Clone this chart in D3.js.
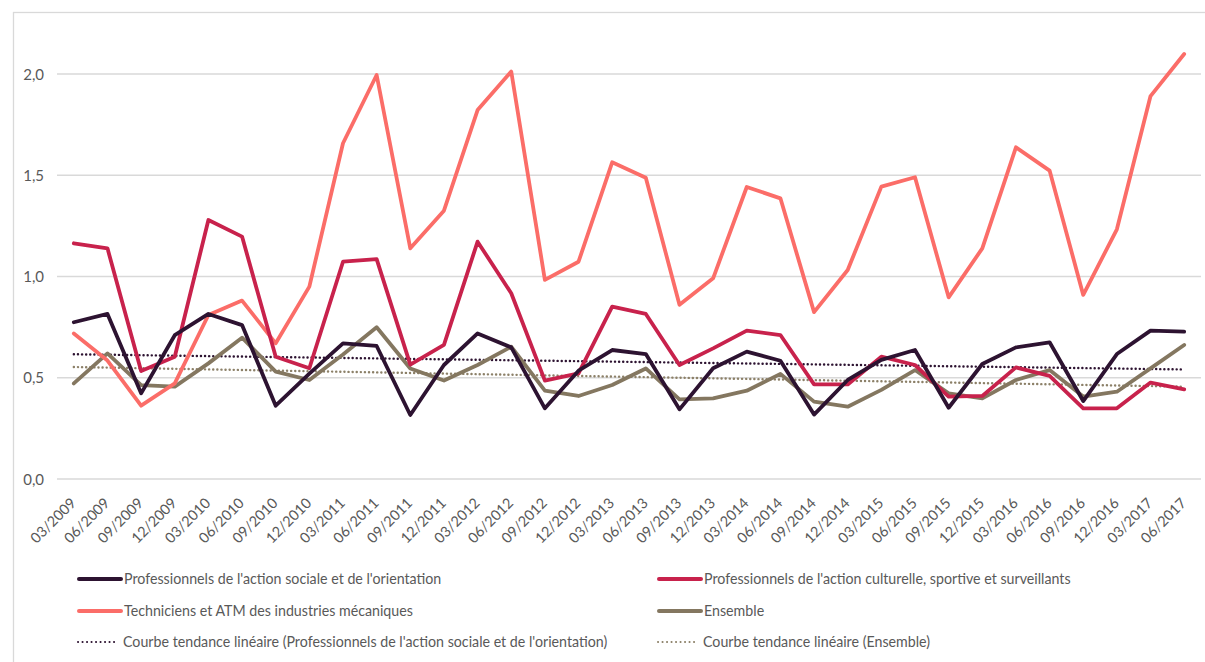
<!DOCTYPE html>
<html><head><meta charset="utf-8">
<script src="https://cdn.jsdelivr.net/npm/d3@7"></script>
<style>
html,body{margin:0;padding:0;background:#fff;}
svg{display:block;}
text{font-family:Lato,"Open Sans",sans-serif;fill:#595959;}
</style></head>
<body>
<svg id="chart" width="1205" height="662"></svg>
<script>
const categories = ["03/2009","06/2009","09/2009","12/2009","03/2010","06/2010","09/2010","12/2010",
"03/2011","06/2011","09/2011","12/2011","03/2012","06/2012","09/2012","12/2012",
"03/2013","06/2013","09/2013","12/2013","03/2014","06/2014","09/2014","12/2014",
"03/2015","06/2015","09/2015","12/2015","03/2016","06/2016","09/2016","12/2016",
"03/2017","06/2017"];
const actionSociale = [0.774,0.815,0.423,0.71,0.815,0.76,0.362,0.52,0.67,0.657,0.316,0.563,0.719,0.65,0.349,0.535,0.637,0.617,0.344,0.547,0.629,0.584,0.318,0.489,0.588,0.637,0.352,0.568,0.65,0.675,0.385,0.617,0.733,0.728];
const actionCulturelle = [1.164,1.139,0.533,0.604,1.279,1.197,0.604,0.547,1.073,1.086,0.565,0.662,1.172,0.917,0.486,0.522,0.851,0.815,0.563,0.645,0.733,0.711,0.467,0.467,0.604,0.563,0.407,0.41,0.551,0.509,0.349,0.349,0.476,0.443];
const techniciens = [0.719,0.585,0.362,0.472,0.81,0.881,0.67,0.95,1.658,1.995,1.139,1.325,1.822,2.012,0.983,1.073,1.564,1.488,0.86,0.991,1.442,1.386,0.824,1.032,1.444,1.49,0.897,1.139,1.638,1.523,0.909,1.233,1.891,2.099];
const ensemble = [0.472,0.62,0.464,0.456,0.571,0.698,0.53,0.489,0.615,0.749,0.546,0.486,0.563,0.653,0.436,0.41,0.464,0.546,0.393,0.398,0.436,0.519,0.382,0.357,0.44,0.538,0.423,0.398,0.489,0.538,0.407,0.431,0.546,0.662];
// trend lines (value at first and last category)
const trendActionSociale = [0.616,0.541];
const trendEnsemble = [0.553,0.456];
const yTicks = [0,0.5,1,1.5,2];
const yTickLabels = ["0,0","0,5","1,0","1,5","2,0"];

const seriesNames = ["Professionnels de l'action sociale et de l'orientation",
 "Professionnels de l'action culturelle, sportive et surveillants",
 "Techniciens et ATM des industries mécaniques",
 "Ensemble",
 "Courbe tendance linéaire (Professionnels de l'action sociale et de l'orientation)",
 "Courbe tendance linéaire (Ensemble)"];

const colors = {soc:"#2d1331", cul:"#c8224c", tech:"#fb6d68", ens:"#847760", trendSoc:"#2d1331", trendEns:"#8c8068"};

const svg = d3.select("#chart");
const x = d3.scalePoint().domain(categories).range([57,1201]).padding(0.5);
const y = d3.scaleLinear().domain([0,2.2]).range([479,479-2.2*202.5]);

// frame
svg.append("rect").attr("x",13.5).attr("y",12.5).attr("width",1300).attr("height",800)
  .attr("fill","none").attr("stroke","#d9d9d9").attr("stroke-width",1.3);

// gridlines
svg.append("g").selectAll("line").data(yTicks).join("line")
  .attr("x1",57).attr("x2",1201).attr("y1",d=>y(d)).attr("y2",d=>y(d))
  .attr("stroke","#d9d9d9").attr("stroke-width",1.5);

// y labels
svg.append("g").selectAll("text").data(yTicks).join("text")
  .attr("x",44).attr("y",d=>y(d)+5.5).attr("text-anchor","end")
  .style("font-size","15px").text((d,i)=>yTickLabels[i]);

// x labels
svg.append("g").selectAll("text").data(categories).join("text")
  .attr("text-anchor","end")
  .attr("transform",d=>`translate(${x(d)+3},504) rotate(-45)`)
  .style("font-size","14.5px").text(d=>d);

const line = d3.line().x((d,i)=>x(categories[i])).y(d=>y(d));

function trendLine(vals,color){
  const pts=[[x(categories[0]),y(vals[0])],[x(categories[categories.length-1]),y(vals[1])]];
  svg.append("path").attr("d",d3.line()(pts)).attr("fill","none").attr("stroke",color)
    .attr("stroke-width",2.4).attr("stroke-dasharray","0.1 4").attr("stroke-linecap","round");
}
trendLine(trendActionSociale,colors.trendSoc);
trendLine(trendEnsemble,colors.trendEns);

const lines = [[ensemble,colors.ens],[techniciens,colors.tech],[actionCulturelle,colors.cul],[actionSociale,colors.soc]];
lines.forEach(([vals,c])=>{
  svg.append("path").attr("d",line(vals)).attr("fill","none").attr("stroke",c)
    .attr("stroke-width",3.8).attr("stroke-linejoin","round").attr("stroke-linecap","round");
});

// legend
const legendItems = [
 {name:seriesNames[0],color:colors.soc,dash:false,lx:77,ly:579},
 {name:seriesNames[1],color:colors.cul,dash:false,lx:657,ly:579},
 {name:seriesNames[2],color:colors.tech,dash:false,lx:77,ly:611},
 {name:seriesNames[3],color:colors.ens,dash:false,lx:657,ly:611},
 {name:seriesNames[4],color:colors.trendSoc,dash:true,lx:77,ly:642},
 {name:seriesNames[5],color:colors.trendEns,dash:true,lx:657,ly:642}
];
const lg = svg.append("g");
legendItems.forEach(it=>{
  if(it.dash){
    lg.append("line").attr("x1",it.lx+1).attr("x2",it.lx+41).attr("y1",it.ly).attr("y2",it.ly)
      .attr("stroke",it.color).attr("stroke-width",2).attr("stroke-dasharray","0.1 4.4").attr("stroke-linecap","round");
  } else {
    lg.append("line").attr("x1",it.lx+2).attr("x2",it.lx+44).attr("y1",it.ly).attr("y2",it.ly)
      .attr("stroke",it.color).attr("stroke-width",4).attr("stroke-linecap","round");
  }
  lg.append("text").attr("transform",`translate(${it.lx+(it.dash?46:47)},${it.ly+5}) scale(0.93,1)`)
    .style("font-size","15.3px").text(it.name);
});
</script>
</body></html>
